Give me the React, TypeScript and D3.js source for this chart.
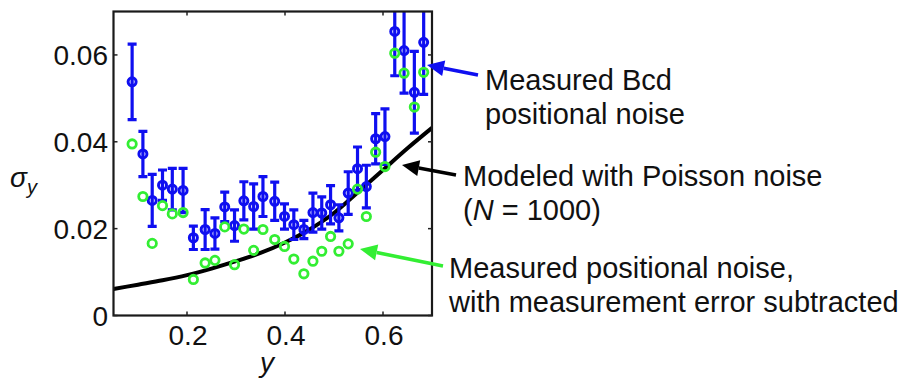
import React from "react";
import * as d3 from "d3";

// Position along the embryo axis (fraction of egg length)
const positions = [
  0.088, 0.110, 0.129, 0.150, 0.170, 0.192, 0.213, 0.237, 0.257, 0.277, 0.297,
  0.316, 0.336, 0.355, 0.379, 0.399, 0.418, 0.4385, 0.457, 0.475, 0.493, 0.510,
  0.529, 0.548, 0.566, 0.585, 0.604, 0.624, 0.643, 0.664, 0.683,
];
// Measured Bcd positional noise (blue) and its error bars
const measuredNoise = [
  0.0538, 0.0372, 0.0265, 0.0300, 0.0291, 0.0288, 0.0179, 0.0198, 0.0189, 0.0250,
  0.0207, 0.0264, 0.0251, 0.0274, 0.0263, 0.0228, 0.0209, 0.0198, 0.0237, 0.0236,
  0.0255, 0.0225, 0.0282, 0.0338, 0.0297, 0.0407, 0.0412, 0.0654, 0.0610, 0.0514,
  0.0629,
];
const measuredError = [
  0.0087, 0.0052, 0.0060, 0.0035, 0.0048, 0.0051, 0.0027, 0.0046, 0.0036, 0.0034,
  0.0036, 0.0044, 0.0052, 0.0046, 0.0044, 0.0029, 0.0034, 0.0021, 0.0045, 0.0037,
  0.0044, 0.0030, 0.0049, 0.0050, 0.0049, 0.0058, 0.0064, 0.0102, 0.0098, 0.0094,
  0.0120,
];
// Positional noise with measurement error subtracted (green)
const correctedNoise = [
  0.0395, 0.0274, 0.0166, 0.0253, 0.0234, 0.0237, 0.0083, 0.0121, 0.0127, 0.0204,
  0.0117, 0.0199, 0.0150, 0.0198, 0.0175, 0.0159, 0.0130, 0.0096, 0.0125, 0.0148,
  0.0182, 0.0148, 0.0165, 0.0291, 0.0228, 0.0376, 0.0343, 0.0604, 0.0558, 0.0480,
  0.0560,
];
// Poisson-noise model curve (N = 1000)
const modelX = [0.05, 0.1, 0.15, 0.2, 0.25, 0.3, 0.35, 0.4, 0.45, 0.5, 0.55, 0.6, 0.65, 0.7];
const modelY = [
  0.0061, 0.0071, 0.0081, 0.0093, 0.0108, 0.0125, 0.0144, 0.0168, 0.0198, 0.0236,
  0.0285, 0.0335, 0.0385, 0.0432,
];
const xTicks = [0.2, 0.4, 0.6];
const yTicks = [0, 0.02, 0.04, 0.06];

const BLUE = "#0f0ff0";
const GREEN = "#33ee33";
const FONT = "'Liberation Sans', Arial, sans-serif";

export default function App() {
  const left = 113.5, right = 432, top = 11.5, bottom = 315.5;
  const x = d3.scaleLinear().domain([0.05, 0.7]).range([left, right]);
  const y = d3.scaleLinear().domain([0, 0.07]).range([bottom, top]);
  const line = d3
    .line<number>()
    .x((_, i) => x(modelX[i]))
    .y((d) => y(d))
    .curve(d3.curveMonotoneX);

  const arrow = (x1: number, y1: number, x2: number, y2: number, color: string) => {
    const ang = Math.atan2(y2 - y1, x2 - x1);
    const len = 17, half = 8;
    const bx = x2 - len * Math.cos(ang), by = y2 - len * Math.sin(ang);
    const px = -Math.sin(ang) * half, py = Math.cos(ang) * half;
    return (
      <g>
        <line x1={x1} y1={y1} x2={bx} y2={by} stroke={color} strokeWidth={3.5} />
        <polygon
          points={`${x2},${y2} ${bx + px},${by + py} ${bx - px},${by - py}`}
          fill={color}
        />
      </g>
    );
  };

  return (
    <svg
      width={909}
      height={385}
      style={{ position: "absolute", left: 0, top: 0, background: "#fff" }}
      fontFamily={FONT}
    >
      <defs>
        <clipPath id="plot-clip">
          <rect x={left} y={top} width={right - left} height={bottom - top} />
        </clipPath>
      </defs>

      <g clipPath="url(#plot-clip)">
        {/* model curve */}
        <path d={line(modelY) ?? ""} fill="none" stroke="#000" strokeWidth={4} />

        {/* measured noise with error bars */}
        {positions.map((p, i) => {
          const cx = x(p);
          const lo = y(measuredNoise[i] - measuredError[i]);
          const hi = y(measuredNoise[i] + measuredError[i]);
          return (
            <g key={"b" + i} stroke={BLUE} strokeWidth={3.2}>
              <line x1={cx} x2={cx} y1={lo} y2={hi} />
              <line x1={cx - 4.5} x2={cx + 4.5} y1={lo} y2={lo} />
              <line x1={cx - 4.5} x2={cx + 4.5} y1={hi} y2={hi} />
              <circle cx={cx} cy={y(measuredNoise[i])} r={4} fill="none" strokeWidth={3} />
            </g>
          );
        })}

        {/* corrected noise */}
        {positions.map((p, i) => (
          <circle
            key={"g" + i}
            cx={x(p)}
            cy={y(correctedNoise[i])}
            r={4.2}
            fill="none"
            stroke={GREEN}
            strokeWidth={2.8}
          />
        ))}
      </g>

      {/* frame and ticks */}
      <rect x={left} y={top} width={right - left} height={bottom - top} fill="none" stroke="#1a1a1a" strokeWidth={2.2} />
      {xTicks.map((t) => (
        <g key={"xt" + t} stroke="#222" strokeWidth={1.5}>
          <line x1={x(t)} x2={x(t)} y1={bottom} y2={bottom - 4} />
          <line x1={x(t)} x2={x(t)} y1={top} y2={top + 4} />
        </g>
      ))}
      {yTicks.map((t) => (
        <g key={"yt" + t} stroke="#222" strokeWidth={1.5}>
          <line x1={left} x2={left + 4} y1={y(t)} y2={y(t)} />
          <line x1={right} x2={right - 4} y1={y(t)} y2={y(t)} />
        </g>
      ))}
      {xTicks.map((t) => (
        <text key={"xl" + t} x={x(t) + 1} y={345} fontSize={28} textAnchor="middle" fill="#111">
          {String(t)}
        </text>
      ))}
      {yTicks.map((t) => (
        <text key={"yl" + t} x={108} y={y(t) + 10} fontSize={28} textAnchor="end" fill="#111">
          {t === 0 ? "0" : t.toFixed(2)}
        </text>
      ))}

      {/* axis titles */}
      <text x={267} y={372} fontSize={28} fontStyle="italic" textAnchor="middle" fill="#111">
        y
      </text>
      <text x={10} y={187} fontSize={28} fontStyle="italic" fill="#111">
        σ
        <tspan fontSize={20} dy={7}>y</tspan>
      </text>

      {/* annotations */}
      {arrow(478, 75, 427, 65, BLUE)}
      {arrow(456, 175, 402, 165, "#000")}
      {arrow(443, 266, 360, 249, GREEN)}

      <g fontSize={29} fill="#111">
        <text x={485} y={90}>Measured Bcd</text>
        <text x={485} y={124}>positional noise</text>
        <text x={463} y={186}>Modeled with Poisson noise</text>
        <text x={463} y={220}>
          (<tspan fontStyle="italic">N</tspan> = 1000)
        </text>
        <text x={449} y={278}>Measured positional noise,</text>
        <text x={449} y={312}>with measurement error subtracted</text>
      </g>
    </svg>
  );
}
